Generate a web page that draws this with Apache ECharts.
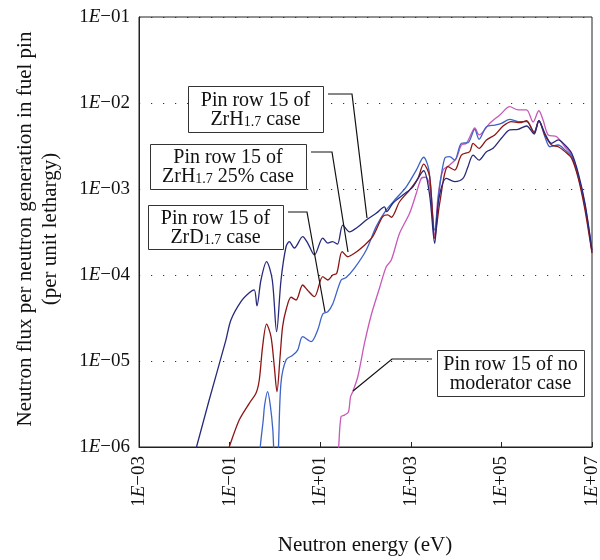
<!DOCTYPE html>
<html>
<head>
<meta charset="utf-8">
<script src="https://cdn.jsdelivr.net/npm/echarts@6/dist/echarts.min.js"></script>
<style>html,body{margin:0;padding:0;background:#fff}#main{width:600px;height:560px}</style>
</head>
<body>
<div id="main"></div>
<script>
// [energy eV, flux per unit lethargy]
var zrhCase = [
	[0.0157,7.4e-7],[0.0186,1e-6],[0.0354,3.52e-6],[0.0828,1.75e-5],[0.107,3.0e-5],[0.178,4.9e-5],
	[0.272,6.2e-5],[0.35,6.7e-5],[0.402,4.37e-5],[0.492,8.75e-5],[0.655,1.43e-4],[0.875,8.75e-5],
	[1.09,2.19e-5],[1.365,8.75e-5],[1.76,2.13e-4],[2.08,2.44e-4],[2.69,2.06e-4],[4.1,2.79e-4],
	[5.3,2.35e-4],[7.45,1.71e-4],[11.4,2.69e-4],[14.7,2.35e-4],[18.6,2.44e-4],[24,2.29e-4],
	[31.5,3.81e-4],[44.3,3.18e-4],[67.6,3.61e-4],[104,4.36e-4],[172,5.22e-4],[263,6.18e-4],
	[292,5.45e-4],[402,6.82e-4],[668,8.5e-4],[1112,1.06e-3],[1918,1.63e-3],[2606,8.5e-4],
	[3365,2.34e-4],[4121,7.45e-4],[6100,1.33e-3],[9310,1.22e-3],[14200,1.33e-3],[18300,1.82e-3],
	[23700,2.48e-3],[32100,2.17e-3],[46800,2.72e-3],[65500,2.97e-3],[1.0e5,3.89e-3],[1.53e5,4.86e-3],
	[2.34e5,4.94e-3],[3.59e5,5.4e-3],[5.28e5,4.36e-3],[6.71e5,6.22e-3],[9.12e5,4.45e-3],[1.28e6,3.4e-3],
	[1.8e6,3.72e-3],[2.53e6,3.25e-3],[3.56e6,2.6e-3],[4.98e6,1.52e-3],[7.0e6,6.82e-4],[1e7,1.95e-4]
];
var zrh25Case = [
	[0.080,7.4e-7],[0.098,1e-6],[0.163,2.06e-6],[0.272,3.22e-6],[0.382,4.21e-6],[0.452,6.01e-6],
	[0.535,1.47e-5],[0.655,2.69e-5],[0.82,1.92e-5],[0.97,8.6e-6],[1.11,4.39e-6],[1.30,1.12e-5],
	[1.48,2.51e-5],[1.76,3.92e-5],[2.27,5.51e-5],[2.93,5.12e-5],[4.1,7.65e-5],[5.2,6.7e-5],
	[7.45,5.6e-5],[11.4,9.55e-5],[14.7,8.75e-5],[18.9,1.0e-4],[23.2,1.05e-4],[30.5,1.87e-4],
	[40.6,1.63e-4],[57.1,1.79e-4],[87.1,2.13e-4],[144,2.79e-4],[240,4.76e-4],[311,4.99e-4],
	[371,4.69e-4],[565,7.11e-4],[940,9.72e-4],[1435,1.33e-3],[1918,1.95e-3],[2606,1.39e-3],
	[3365,2.67e-4],[4335,6.82e-4],[6620,1.82e-3],[9310,1.66e-3],[13100,2.48e-3],[20000,2.72e-3],
	[23700,3.4e-3],[32100,2.97e-3],[46800,3.72e-3],[71400,4.25e-3],[1.09e5,5.4e-3],[1.67e5,6.07e-3],
	[2.55e5,5.9e-3],[3.59e5,6.22e-3],[5.28e5,4.52e-3],[6.71e5,6.22e-3],[9.12e5,4.25e-3],[1.28e6,3.25e-3],
	[1.8e6,3.1e-3],[2.53e6,2.72e-3],[3.56e6,2.27e-3],[4.98e6,1.33e-3],[7.0e6,5.7e-4],[1e7,1.8e-4]
];
var zrdCase = [
	[0.44,5e-7],[0.475,1e-6],[0.553,2.06e-6],[0.594,3.08e-6],[0.69,4.4e-6],[0.79,3.08e-6],
	[0.90,1.58e-6],[1.02,5e-7],[1.13,5e-7],[1.20,1e-6],[1.36,5.5e-6],[1.76,1.03e-5],
	[2.47,1.17e-5],[3.18,1.34e-5],[4.1,1.92e-5],[6.3,1.68e-5],[8.8,2.29e-5],[11.4,3.52e-5],
	[14.7,3.74e-5],[18.9,4.6e-5],[29,8.75e-5],[37.4,9.35e-5],[57.1,1.2e-4],[104,1.95e-4],
	[172,3.65e-4],[287,5.7e-4],[477,7.8e-4],[794,1.06e-3],[1324,1.66e-3],[1918,2.34e-3],
	[2512,1.66e-3],[3365,3.33e-4],[4335,1.06e-3],[5600,2.27e-3],[7210,2.38e-3],[9310,2.17e-3],
	[13100,3.4e-3],[18300,3.45e-3],[25800,4.94e-3],[32100,3.79e-3],[46800,5.3e-3],[71400,5.54e-3],
	[1.0e5,5.8e-3],[1.53e5,6.46e-3],[2.34e5,6.07e-3],[3.59e5,6.07e-3],[5.28e5,4.64e-3],[6.71e5,6.22e-3],
	[9.12e5,4.06e-3],[1.18e6,3.1e-3],[1.8e6,3.25e-3],[2.53e6,2.84e-3],[3.56e6,2.38e-3],[4.98e6,1.39e-3],
	[7.0e6,6.22e-4],[1e7,1.85e-4]
];
var noModCase = [
	[24.5,7e-7],[25.6,1e-6],[28.8,2.25e-6],[34.3,2.35e-6],[42,2.55e-6],[46.6,3.81e-6],
	[52.4,4.4e-6],[67.6,6.56e-6],[95,1.61e-5],[134,3.43e-5],[204,7.06e-5],[287,1.25e-4],
	[371,1.49e-4],[565,3.05e-4],[940,5.21e-4],[1324,8.91e-4],[1706,1.33e-3],[2124,1.37e-3],
	[2606,1.11e-3],[3365,2.84e-4],[3980,8.13e-4],[5130,1.66e-3],[7210,1.9e-3],[10200,2.29e-3],
	[13100,3.25e-3],[16900,3.4e-3],[23700,4.86e-3],[25800,5.12e-3],[32100,4.25e-3],[55300,5.81e-3],
	[92200,7.24e-3],[1.53e5,9.06e-3],[2.34e5,8.3e-3],[3.59e5,8.3e-3],[5.0e5,6.01e-3],[6.71e5,8.13e-3],
	[8.32e5,6.34e-3],[1.08e6,4.25e-3],[1.66e6,4.06e-3],[2.53e6,3.08e-3],[3.56e6,2.48e-3],[4.98e6,1.46e-3],
	[7.0e6,6.52e-4],[1e7,1.9e-4]
];

var serif = '"Liberation Serif", "Times New Roman", serif';

function expLabel(v){
	var e = Math.round(Math.log10(v));
	var a = Math.abs(e);
	return '1{i|E}' + (e < 0 ? '\u2212' : '+') + (a < 10 ? '0' : '') + a;
}

function curve(name, data, color){
	return {
		name: name,
		type: 'line',
		data: data,
		showSymbol: false,
		smooth: 0.3,
		lineStyle: { color: color, width: 1.3 },
		itemStyle: { color: color }
	};
}

var boxes = [
	{ x: 188, y: 86, w: 135, h: 46, text: 'Pin row 15 of\nZrH{s|1.7} case' },
	{ x: 150, y: 144, w: 156, h: 45, text: 'Pin row 15 of\nZrH{s|1.7} 25% case' },
	{ x: 148, y: 205, w: 135, h: 44, text: 'Pin row 15 of\nZrD{s|1.7} case' },
	{ x: 437, y: 350, w: 147, h: 46, text: 'Pin row 15 of no\nmoderator case' }
];
var leaders = [
	[[328, 94], [352, 94], [367, 218]],
	[[311, 152], [332, 152], [348, 252]],
	[[288, 212], [307, 212], [325, 312]],
	[[432, 359], [392, 359], [353, 391]]
];

var graphic = [];
for (var i = 0; i < boxes.length; i++){
	var b = boxes[i];
	graphic.push({
		type: 'rect', z: 50,
		shape: { x: b.x + 0.5, y: b.y + 0.5, width: b.w, height: b.h },
		style: { fill: '#fff', stroke: '#333', lineWidth: 1 }
	});
	graphic.push({
		type: 'text', z: 51,
		style: {
			x: b.x + b.w / 2, y: b.y + b.h / 2 + 1,
			text: b.text, fill: '#111',
			font: '20px ' + serif, lineHeight: 19,
			textAlign: 'center', textVerticalAlign: 'middle',
			rich: { s: { fontSize: 14, fontFamily: serif, lineHeight: 8, verticalAlign: 'bottom', fill: '#111' } }
		}
	});
}
for (var j = 0; j < leaders.length; j++){
	graphic.push({
		type: 'polyline', z: 49,
		shape: { points: leaders[j] },
		style: { stroke: '#111', lineWidth: 1.2, fill: null }
	});
}
graphic.push({
	type: 'text',
	rotation: Math.PI / 2,
	x: 38, y: 229,
	style: {
		text: 'Neutron flux per neutron generation in fuel pin\n(per unit lethargy)',
		font: '21px ' + serif, fill: '#111', lineHeight: 25,
		textAlign: 'center', textVerticalAlign: 'middle'
	}
});
graphic.push({
	type: 'text',
	x: 365, y: 545,
	style: {
		text: 'Neutron energy (eV)',
		font: '21px ' + serif, fill: '#111',
		textAlign: 'center', textVerticalAlign: 'middle'
	}
});

var myChart = echarts.init(document.getElementById('main'));
var option = {
	animation: false,
	backgroundColor: '#fff',
	grid: {
		left: 139, right: 8, top: 17, bottom: 113,
		containLabel: false, outerBoundsMode: 'none',
		show: true, borderColor: '#222', borderWidth: 1
	},
	xAxis: {
		type: 'log', logBase: 10, min: 0.001, max: 1e7, interval: 2,
		axisLine: { lineStyle: { color: '#222', width: 1 } },
		axisTick: { inside: true, length: 5, lineStyle: { color: '#222' } },
		minorTick: { show: false },
		splitLine: { show: false },
		axisLabel: {
			rotate: 90, margin: 9, formatter: expLabel, showMinLabel: true, showMaxLabel: true,
			fontFamily: serif, fontSize: 19, color: '#111',
			rich: { i: { fontStyle: 'italic', fontFamily: serif, fontSize: 19, color: '#111' } }
		}
	},
	yAxis: {
		type: 'log', logBase: 10, min: 1e-6, max: 0.1, interval: 1,
		axisLine: { lineStyle: { color: '#222', width: 1 } },
		axisTick: { show: false },
		splitLine: { show: true, lineStyle: { color: '#333', width: 1.2, type: [1.2, 10.8] } },
		axisLabel: {
			margin: 9, formatter: expLabel,
			fontFamily: serif, fontSize: 19, color: '#111',
			rich: { i: { fontStyle: 'italic', fontFamily: serif, fontSize: 19, color: '#111' } }
		}
	},
	series: [
		curve('Pin row 15 of no moderator case', noModCase, '#c859b8'),
		curve('Pin row 15 of ZrD1.7 case', zrdCase, '#3d63c6'),
		curve('Pin row 15 of ZrH1.7 25% case', zrh25Case, '#8c1616'),
		curve('Pin row 15 of ZrH1.7 case', zrhCase, '#27297a')
	],
	graphic: graphic
};
myChart.setOption(option);
</script>
</body>
</html>
